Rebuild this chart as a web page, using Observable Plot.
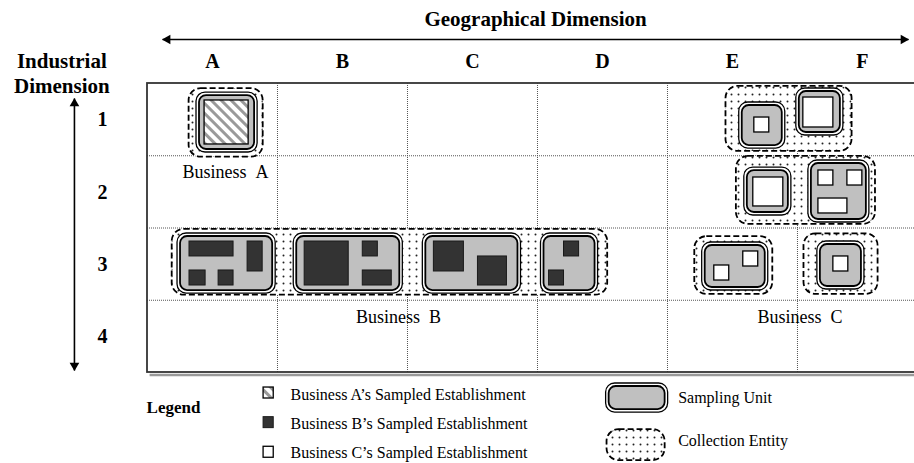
<!DOCTYPE html>
<html>
<head>
<meta charset="utf-8">
<script src="https://cdn.jsdelivr.net/npm/d3@7"></script>
<script src="https://cdn.jsdelivr.net/npm/@observablehq/plot@0.6"></script>
<style>
  html, body { margin: 0; padding: 0; background: white; }
  #chart { width: 914px; height: 463px; }
</style>
</head>
<body>
<div id="chart"></div>
<script>
// ---- Data (grid units: x = column index, y = row index, 0 = top-left of frame) ----
const columns = ["A", "B", "C", "D", "E", "F"];
const rows = ["1", "2", "3", "4"];
const title = "Geographical Dimension";
const sideTitle = ["Industrial", "Dimension"];

const collectionEntities = [
  { x1: 0.32, x2: 0.89, y1: 0.07, y2: 1.02 },
  { x1: 0.19, x2: 3.54, y1: 2.02, y2: 2.93 },
  { x1: 4.45, x2: 5.42, y1: 0.04, y2: 0.94 },
  { x1: 4.53, x2: 5.60, y1: 1.01, y2: 1.95 },
  { x1: 4.21, x2: 4.81, y1: 2.12, y2: 2.92 },
  { x1: 5.05, x2: 5.62, y1: 2.08, y2: 2.92 }
];

const samplingUnits = [
  { x1: 0.377, x2: 0.847, y1: 0.125, y2: 0.955 },
  { x1: 0.231, x2: 0.986, y1: 2.076, y2: 2.907 },
  { x1: 1.125, x2: 1.964, y1: 2.076, y2: 2.907 },
  { x1: 2.118, x2: 2.873, y1: 2.076, y2: 2.907 },
  { x1: 3.027, x2: 3.466, y1: 2.076, y2: 2.907 },
  { x1: 4.552, x2: 4.906, y1: 0.263, y2: 0.900 },
  { x1: 4.991, x2: 5.353, y1: 0.069, y2: 0.720 },
  { x1: 4.591, x2: 4.953, y1: 1.163, y2: 1.827 },
  { x1: 5.084, x2: 5.553, y1: 1.066, y2: 1.924 },
  { x1: 4.267, x2: 4.775, y1: 2.201, y2: 2.865 },
  { x1: 5.153, x2: 5.515, y1: 2.187, y2: 2.851 }
];

const establishments = [
  { business: "A", x1: 0.439, x2: 0.778, y1: 0.235, y2: 0.844 },
  { business: "B", x1: 0.323, x2: 0.662, y1: 2.187, y2: 2.394 },
  { business: "B", x1: 0.770, x2: 0.886, y1: 2.187, y2: 2.602 },
  { business: "B", x1: 0.323, x2: 0.447, y1: 2.588, y2: 2.796 },
  { business: "B", x1: 0.547, x2: 0.662, y1: 2.588, y2: 2.796 },
  { business: "B", x1: 1.209, x2: 1.548, y1: 2.187, y2: 2.796 },
  { business: "B", x1: 1.656, x2: 1.772, y1: 2.187, y2: 2.394 },
  { business: "B", x1: 1.656, x2: 1.879, y1: 2.588, y2: 2.796 },
  { business: "B", x1: 2.203, x2: 2.434, y1: 2.187, y2: 2.602 },
  { business: "B", x1: 2.542, x2: 2.765, y1: 2.394, y2: 2.796 },
  { business: "B", x1: 3.204, x2: 3.320, y1: 2.187, y2: 2.394 },
  { business: "B", x1: 3.089, x2: 3.204, y1: 2.588, y2: 2.796 },
  { business: "C", x1: 4.668, x2: 4.783, y1: 0.471, y2: 0.678 },
  { business: "C", x1: 5.045, x2: 5.276, y1: 0.194, y2: 0.609 },
  { business: "C", x1: 4.660, x2: 4.891, y1: 1.301, y2: 1.702 },
  { business: "C", x1: 5.161, x2: 5.276, y1: 1.204, y2: 1.412 },
  { business: "C", x1: 5.384, x2: 5.499, y1: 1.204, y2: 1.412 },
  { business: "C", x1: 5.161, x2: 5.384, y1: 1.592, y2: 1.799 },
  { business: "C", x1: 4.583, x2: 4.698, y1: 2.325, y2: 2.533 },
  { business: "C", x1: 4.360, x2: 4.475, y1: 2.519, y2: 2.727 },
  { business: "C", x1: 5.276, x2: 5.391, y1: 2.394, y2: 2.602 }
];

const businessLabels = [
  { text: "Business\u00a0\u00a0A", x: 0.60, y: 1.23 },
  { text: "Business\u00a0\u00a0B", x: 1.93, y: 3.24 },
  { text: "Business\u00a0\u00a0C", x: 5.02, y: 3.24 }
];

const legendTitle = "Legend";
const legendBusinesses = ["A", "B", "C"];
const legendEstablishmentLabels = [
  "Business A\u2019s Sampled Establishment",
  "Business B\u2019s Sampled Establishment",
  "Business C\u2019s Sampled Establishment"
];
const legendShapeLabels = ["Sampling Unit", "Collection Entity"];

// ---- Layout helpers (grid units) ----
const legEst = legendBusinesses.map((b, i) => ({
  business: b, label: legendEstablishmentLabels[i],
  x1: 0.893, x2: 0.971, y1: 4.208 + i * 0.41, y2: 4.36 + i * 0.41,
  tx: 1.10, ty: 4.31 + i * 0.398
}));
const legSU = [{ x1: 3.528, x2: 4.005, y1: 4.152, y2: 4.554, tx: 4.082, ty: 4.346, label: legendShapeLabels[0] }];
const legCE = [{ x1: 3.535, x2: 3.982, y1: 4.79, y2: 5.22, tx: 4.082, ty: 4.95, label: legendShapeLabels[1] }];

const hArrow = [{ x1: 0.116, x2: 5.854, y: -0.609 }];
const vArrow = [{ x: -0.562, y1: 0.208, y2: 3.972 }];

const serif = "'Liberation Serif', 'Times New Roman', Times, serif";

const estFill = { A: "url(#hatch)", B: "#333333", C: "white" };
const estStroke = { A: "black", B: "#1a1a1a", C: "black" };

function estMarks(data) {
  return legendBusinesses.map(b =>
    Plot.rect(data.filter(d => d.business === b), {
      x1: "x1", x2: "x2", y1: "y1", y2: "y2",
      fill: estFill[b], stroke: estStroke[b], strokeWidth: b === "B" ? 1 : 1.3
    })
  );
}
function suMarks(data) {
  return [
    Plot.rect(data, { x1: "x1", x2: "x2", y1: "y1", y2: "y2", fill: "white", stroke: "black", strokeWidth: 1.3, rx: 9 }),
    Plot.rect(data, { x1: "x1", x2: "x2", y1: "y1", y2: "y2", inset: 3, fill: "#c0c0c0", stroke: "black", strokeWidth: 1.8, rx: 7 })
  ];
}
function ceMarks(data) {
  return Plot.rect(data, { x1: "x1", x2: "x2", y1: "y1", y2: "y2", fill: "url(#dots)", stroke: "black", strokeWidth: 1.8, strokeDasharray: "6,3", rx: 12 });
}

const svg = Plot.plot({
  width: 914,
  height: 463,
  x: { domain: [0, 6], range: [147, 926.98], axis: null },
  y: { domain: [0, 4], range: [83, 372], axis: null },
  style: { fontFamily: serif, background: "white", color: "black", overflow: "visible" },
  marks: [
    // frame shadow
    Plot.ruleY([4], { x1: 0.02, x2: 6, dy: 2.5, stroke: "#9a9a9a", strokeWidth: 2.5 }),
    // grid
    Plot.ruleX([1, 2, 3, 4, 5], { y1: 0, y2: 4, stroke: "#555", strokeWidth: 1, strokeDasharray: "1,1" }),
    Plot.ruleY([1, 2, 3], { x1: 0, x2: 6, stroke: "#555", strokeWidth: 1, strokeDasharray: "1,1" }),
    Plot.rect([{ x1: 0, x2: 6, y1: 0, y2: 4 }], { x1: "x1", x2: "x2", y1: "y1", y2: "y2", fill: "none", stroke: "#333", strokeWidth: 1.8 }),

    // business labels
    Plot.text(businessLabels, { x: "x", y: "y", text: "text", fontSize: 18, fill: "black" }),

    // collection entities, sampling units, establishments
    ceMarks(collectionEntities),
    ...suMarks(samplingUnits),
    ...estMarks(establishments),

    // titles
    Plot.text([title], { x: 2.985, y: -0.886, text: d => d, fontSize: 21, fontWeight: "bold" }),
    Plot.text(columns, { x: (d, i) => i + 0.5, y: -0.30, text: d => d, fontSize: 20, fontWeight: "bold" }),
    Plot.text(rows, { x: -0.347, y: (d, i) => i + 0.505, text: d => d, fontSize: 20, fontWeight: "bold" }),
    Plot.text(sideTitle, { x: -0.659, y: (d, i) => -0.311 + i * 0.346, text: d => d, fontSize: 21, fontWeight: "bold" }),

    // arrows
    Plot.link(hArrow, { x1: "x1", x2: "x2", y1: "y", y2: "y", stroke: "black", strokeWidth: 1.6 }),
    Plot.dot(hArrow, { x: "x2", y: "y", symbol: "triangle", r: 3.6, fill: "black", rotate: 90, dx: -5 }),
    Plot.dot(hArrow, { x: "x1", y: "y", symbol: "triangle", r: 3.6, fill: "black", rotate: -90, dx: 5 }),
    Plot.link(vArrow, { x1: "x", x2: "x", y1: "y1", y2: "y2", stroke: "black", strokeWidth: 1.6 }),
    Plot.dot(vArrow, { x: "x", y: "y1", symbol: "triangle", r: 3.6, fill: "black", rotate: 0, dy: 5 }),
    Plot.dot(vArrow, { x: "x", y: "y2", symbol: "triangle", r: 3.6, fill: "black", rotate: 180, dy: -5 }),

    // legend
    Plot.text([legendTitle], { x: 0.20, y: 4.484, text: d => d, fontSize: 17, fontWeight: "bold" }),
    ...estMarks(legEst),
    Plot.text(legEst, { x: "tx", y: "ty", text: "label", fontSize: 16, textAnchor: "start" }),
    ceMarks(legCE),
    ...suMarks(legSU),
    Plot.text(legSU, { x: "tx", y: "ty", text: "label", fontSize: 16, textAnchor: "start" }),
    Plot.text(legCE, { x: "tx", y: "ty", text: "label", fontSize: 16, textAnchor: "start" })
  ]
});

// patterns
const NS = "http://www.w3.org/2000/svg";
const defs = document.createElementNS(NS, "defs");
function el(tag, attrs, parent) {
  const e = document.createElementNS(NS, tag);
  for (const k in attrs) e.setAttribute(k, attrs[k]);
  parent.appendChild(e);
  return e;
}
const dots = el("pattern", { id: "dots", patternUnits: "userSpaceOnUse", width: 7, height: 7 }, defs);
el("rect", { width: 7, height: 7, fill: "white" }, dots);
el("circle", { cx: 3.5, cy: 3.5, r: 1.0, fill: "#222" }, dots);
const hatch = el("pattern", { id: "hatch", patternUnits: "userSpaceOnUse", width: 7, height: 7, patternTransform: "rotate(-45)" }, defs);
el("rect", { width: 7, height: 7, fill: "white" }, hatch);
el("rect", { width: 3, height: 7, fill: "#9a9a9a" }, hatch);
svg.insertBefore(defs, svg.firstChild);

document.getElementById("chart").appendChild(svg);
</script>
</body>
</html>
